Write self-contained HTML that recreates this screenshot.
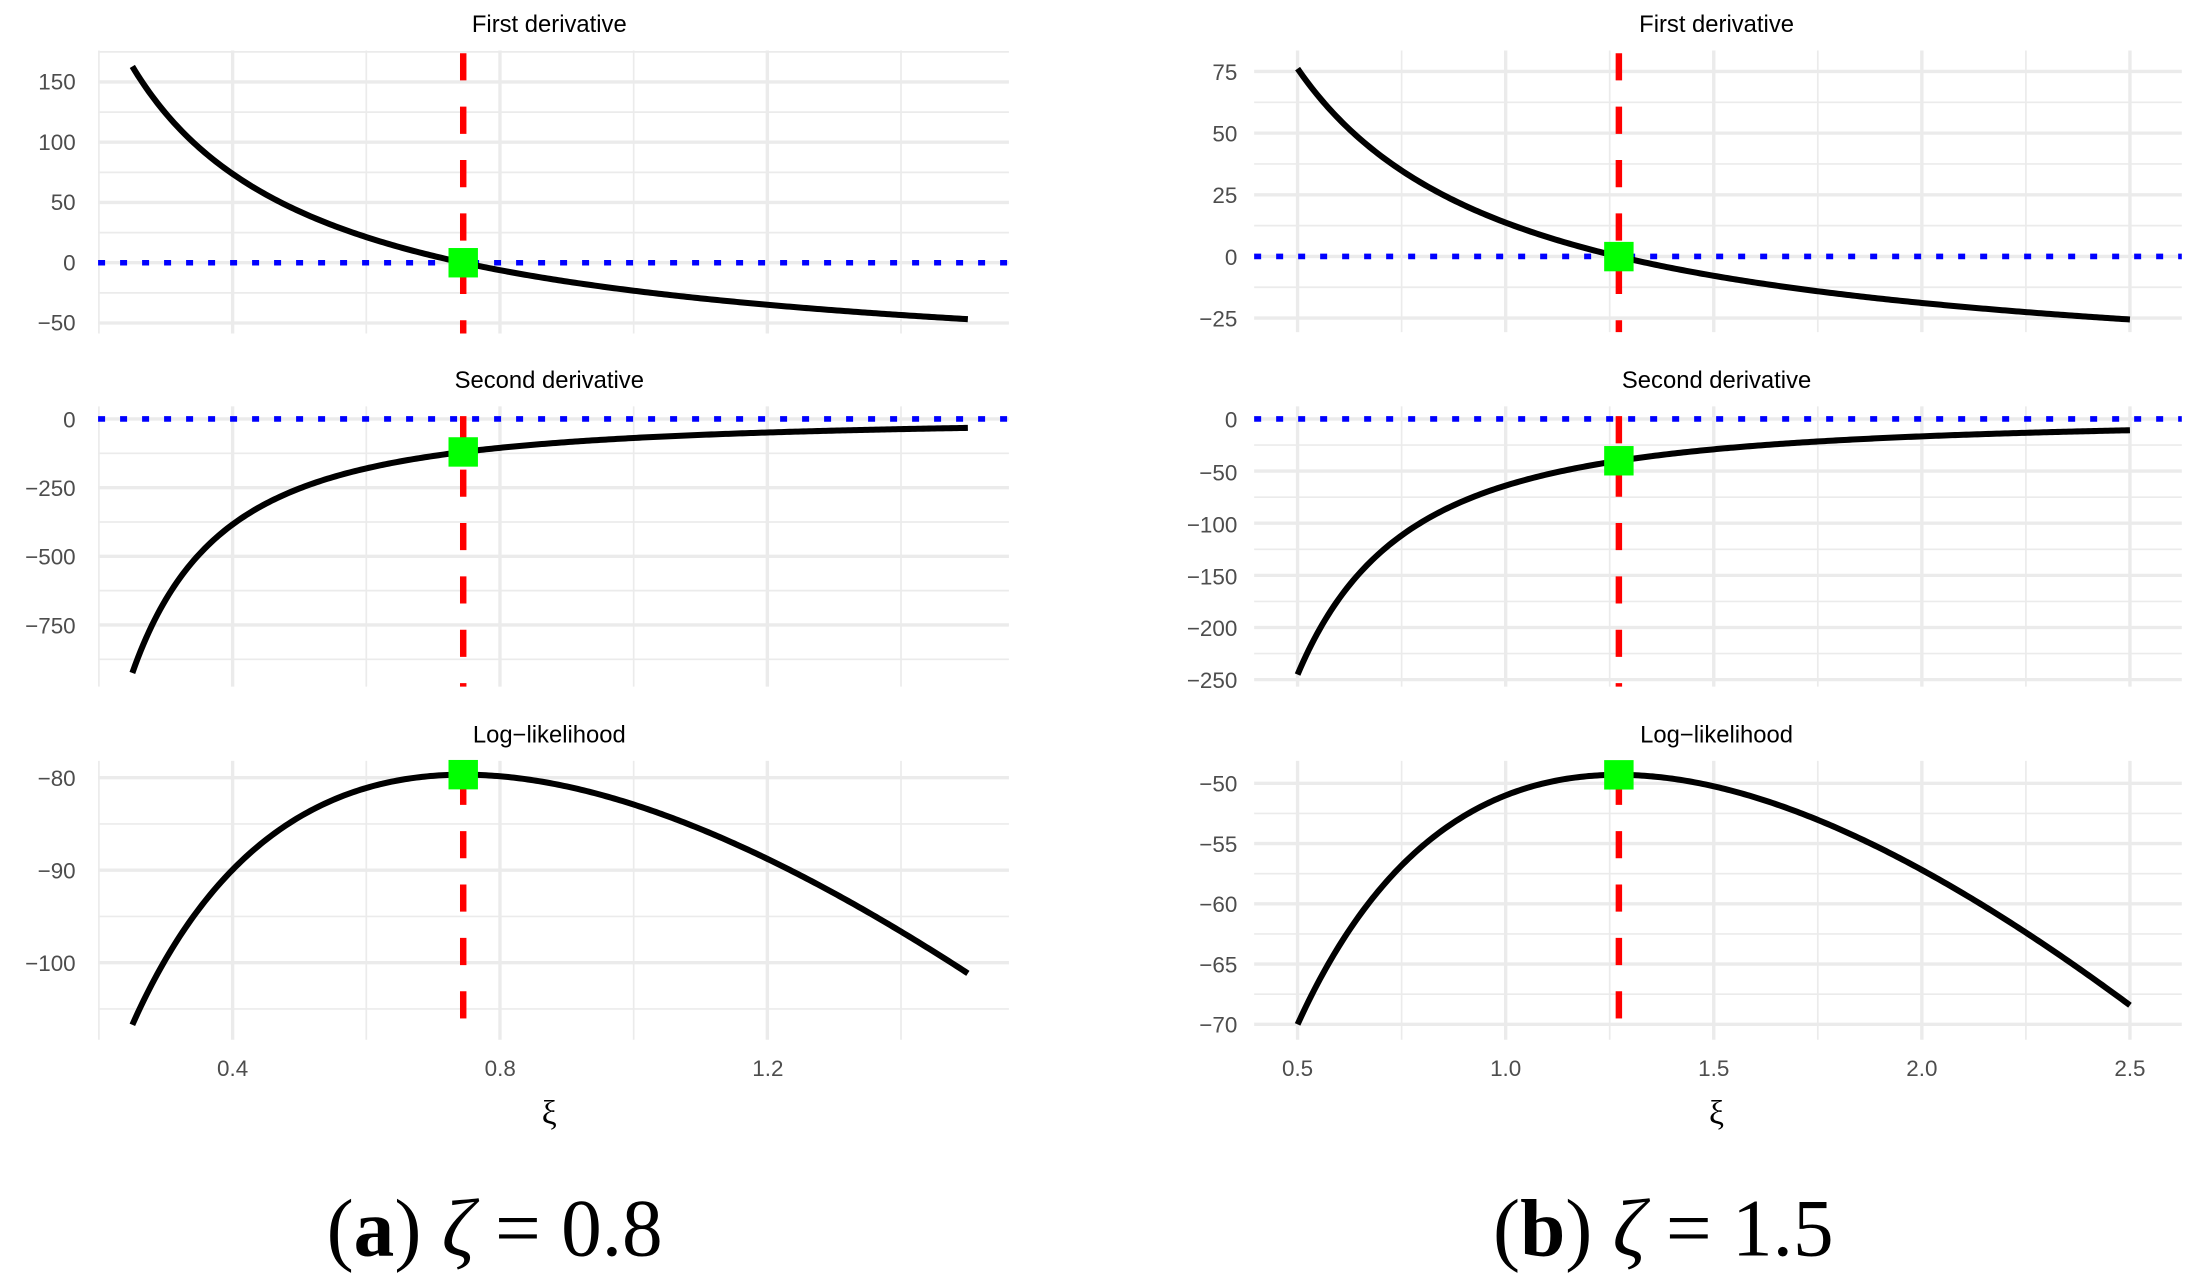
<!DOCTYPE html>
<html><head><meta charset="utf-8"><style>
html,body{margin:0;padding:0;background:#fff;}
svg{display:block;}
.sans{font-family:"Liberation Sans",sans-serif;}
.serif{font-family:"Liberation Serif",serif;}
</style></head><body>
<svg id="s" width="2186" height="1284" viewBox="0 0 1560 916.3" xmlns="http://www.w3.org/2000/svg">
<g id="grid"></g>
<g id="data"></g>
<g class="sans" font-size="16" fill="#4d4d4d" text-anchor="end">
<text x="54" y="64">150</text><text x="54" y="107">100</text><text x="54" y="150">50</text><text x="54" y="193">0</text><text x="54" y="236">−50</text>
<text x="54" y="305">0</text><text x="54" y="354">−250</text><text x="54" y="403">−500</text><text x="54" y="452">−750</text>
<text x="54" y="561">−80</text><text x="54" y="627">−90</text><text x="54" y="693">−100</text>
<text x="883" y="57">75</text><text x="883" y="101">50</text><text x="883" y="145">25</text><text x="883" y="189">0</text><text x="883" y="233">−25</text>
<text x="883" y="305">0</text><text x="883" y="343">−50</text><text x="883" y="380">−100</text><text x="883" y="417">−150</text><text x="883" y="454">−200</text><text x="883" y="491">−250</text>
<text x="883" y="565">−50</text><text x="883" y="608">−55</text><text x="883" y="651">−60</text><text x="883" y="694">−65</text><text x="883" y="737">−70</text>
</g>
<g class="sans" font-size="16" fill="#4d4d4d" text-anchor="middle">
<text x="166" y="768">0.4</text><text x="357" y="768">0.8</text><text x="548" y="768">1.2</text>
<text x="926" y="768">0.5</text><text x="1074.5" y="768">1.0</text><text x="1223" y="768">1.5</text><text x="1371.5" y="768">2.0</text><text x="1520" y="768">2.5</text>
</g>
<g class="sans" font-size="17" fill="#000" text-anchor="middle">
<text class="sans" x="392" y="23">First derivative</text><text class="sans" x="392" y="277">Second derivative</text><text class="sans" x="392" y="530">Log−likelihood</text>
<text class="sans" x="1225" y="23">First derivative</text><text class="sans" x="1225" y="277">Second derivative</text><text class="sans" x="1225" y="530">Log−likelihood</text>
</g>
<g class="serif" font-size="24" fill="#000" text-anchor="middle">
<text class="serif" x="392" y="802">ξ</text><text class="serif" x="1225" y="802">ξ</text>
</g>
<g class="serif" font-size="58" fill="#000" text-anchor="middle">
<text class="serif" x="353" y="896"><tspan>(</tspan><tspan font-weight="bold">a</tspan><tspan>) </tspan><tspan font-style="italic">ζ</tspan><tspan> = 0.8</tspan></text>
<text class="serif" x="1187" y="896"><tspan>(</tspan><tspan font-weight="bold">b</tspan><tspan>) </tspan><tspan font-style="italic">ζ</tspan><tspan> = 1.5</tspan></text>
</g>
</svg>
<script>
var NS="http://www.w3.org/2000/svg";
var grid=document.getElementById("grid"),data=document.getElementById("data");
function el(p,tag,a){var e=document.createElementNS(NS,tag);for(var k in a)e.setAttribute(k,a[k]);p.appendChild(e);return e;}
function panel(P){
  var X=function(v){return P.x0+(v-P.xv0)*P.xs;};
  var Y=function(v){return P.y0-v*P.ys;};
  P.minX.forEach(function(v){el(grid,"line",{x1:X(v),x2:X(v),y1:P.top,y2:P.bot,stroke:"#ebebeb","stroke-width":1.2});});
  P.minY.forEach(function(v){el(grid,"line",{x1:P.L,x2:P.R,y1:Y(v),y2:Y(v),stroke:"#ebebeb","stroke-width":1.2});});
  P.majX.forEach(function(v){el(grid,"line",{x1:X(v),x2:X(v),y1:P.top,y2:P.bot,stroke:"#ebebeb","stroke-width":2.4});});
  P.majY.forEach(function(v){el(grid,"line",{x1:P.L,x2:P.R,y1:Y(v),y2:Y(v),stroke:"#ebebeb","stroke-width":2.4});});
  if(P.zero) el(data,"line",{x1:P.L,x2:P.R,y1:Y(0),y2:Y(0),stroke:"#0000ff","stroke-width":4,"stroke-dasharray":"5 10.7"});
  var d="";for(var i=0;i<=300;i++){var v=P.a+(P.b-P.a)*i/300;d+=(i?"L":"M")+X(v).toFixed(2)+" "+Y(P.f(v)).toFixed(2);}
  el(data,"path",{d:d,fill:"none",stroke:"#000","stroke-width":4.3});
  var rx=X(P.m);
  el(data,"line",{x1:rx,x2:rx,y1:P.top,y2:P.bot,stroke:"#ff0000","stroke-width":4.6,"stroke-dasharray":"19.4 18.7","stroke-dashoffset":P.doff||0});
  var gy=Y(P.f(P.m));el(data,"rect",{x:rx-10.5,y:gy-10.5,width:21,height:21,fill:"#00ff00"});
}
var Lx={x0:166,xv0:0.4,xs:477,L:70,R:720,a:0.25,b:1.5,m:0.745,majX:[0.4,0.8,1.2],minX:[0.2,0.6,1.0,1.4]};
var Rx={x0:926,xv0:0.5,xs:297,L:895,R:1557,a:0.5,b:2.5,m:1.272,majX:[0.5,1,1.5,2,2.5],minX:[0.75,1.25,1.75,2.25]};
function mk(b,o){var r={};for(var k in b)r[k]=b[k];for(var k in o)r[k]=o[k];return r;}
panel(mk(Lx,{top:36,bot:238,y0:187.5,ys:0.86,majY:[150,100,50,0,-50],minY:[175,125,75,25,-25],zero:1,doff:-2,
 f:function(x){return 79.5*Math.pow(x,-0.87)-102.7;}}));
panel(mk(Lx,{top:290,bot:490,y0:299,ys:0.196,majY:[0,-250,-500,-750],minY:[-125,-375,-625,-875],zero:1,doff:-7,
 f:function(x){return -69.2*Math.pow(x,-1.87);}}));
panel(mk(Lx,{top:543,bot:742,y0:555-80*6.6,ys:6.6,majY:[-80,-90,-100],minY:[-85,-95,-105],doff:-12,
 f:function(x){return 611.5*Math.pow(x,0.13)-102.7*x-591.7;}}));
panel(mk(Rx,{top:36,bot:237,y0:183,ys:1.76,majY:[75,50,25,0,-25],minY:[62.5,37.5,12.5,-12.5],zero:1,doff:-2,
 f:function(x){return 68*Math.pow(x,-0.94)-54.3;}}));
panel(mk(Rx,{top:290,bot:490,y0:299,ys:0.744,majY:[0,-50,-100,-150,-200,-250],minY:[-25,-75,-125,-175,-225],zero:1,doff:-7,
 f:function(x){return -63.9*Math.pow(x,-1.94);}}));
panel(mk(Rx,{top:543,bot:742,y0:559-50*8.6,ys:8.6,majY:[-50,-55,-60,-65,-70],minY:[-52.5,-57.5,-62.5,-67.5],doff:-12,
 f:function(x){return 1133*Math.pow(x,0.06)-54.3*x-1129.7;}}));
</script>
</body></html>
